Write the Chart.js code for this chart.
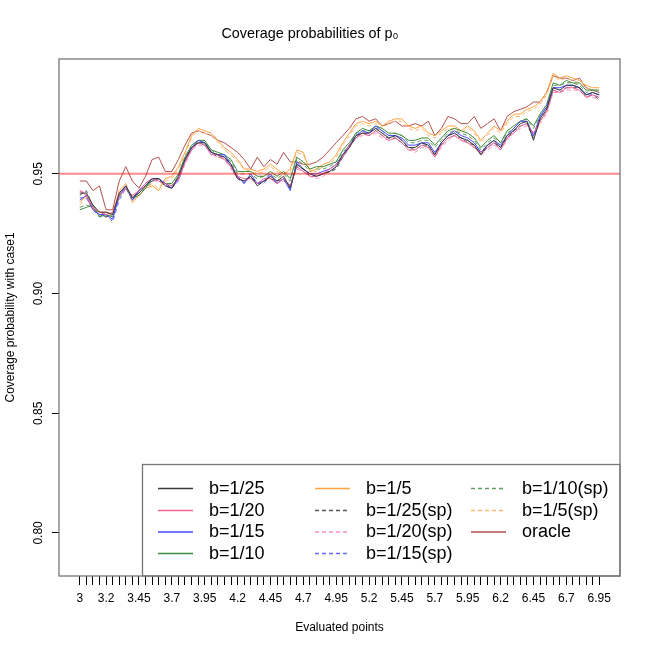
<!DOCTYPE html>
<html>
<head>
<meta charset="utf-8">
<script src="https://cdn.jsdelivr.net/npm/chart.js@4.4.1/dist/chart.umd.min.js"></script>
<style>
html, body { margin: 0; padding: 0; background: #fff; }
</style>
</head>
<body>
<canvas id="chart" width="650" height="650"></canvas>
<script>
// evaluated points on the x axis
const xPoints = [3,3.05,3.1,3.15,3.2,3.25,3.3,3.35,3.4,3.45,
  3.5,3.55,3.6,3.65,3.7,3.75,3.8,3.85,3.9,3.95,
  4,4.05,4.1,4.15,4.2,4.25,4.3,4.35,4.4,4.45,
  4.5,4.55,4.6,4.65,4.7,4.75,4.8,4.85,4.9,4.95,
  5,5.05,5.1,5.15,5.2,5.25,5.3,5.35,5.4,5.45,
  5.5,5.55,5.6,5.65,5.7,5.75,5.8,5.85,5.9,5.95,
  6,6.05,6.1,6.15,6.2,6.25,6.3,6.35,6.4,6.45,
  6.5,6.55,6.6,6.65,6.7,6.75,6.8,6.85,6.9,6.95];
const xTickLabels = ['3','3.2','3.45','3.7','3.95','4.2','4.45','4.7','4.95','5.2','5.45','5.7','5.95','6.2','6.45','6.7','6.95'];
const yTicks = [0.80, 0.85, 0.90, 0.95];
const yTickLabels = ['0.80', '0.85', '0.90', '0.95'];
const refLevel = 0.95;

// coverage probabilities
const b25 = [0.942,0.942,0.937,0.934,0.934,0.933,0.942,0.945,0.940,0.942,0.945,0.948,0.948,0.945,0.944,0.949,0.956,0.961,0.963,0.963,
  0.959,0.958,0.957,0.954,0.948,0.947,0.949,0.945,0.947,0.949,0.947,0.949,0.944,0.954,0.952,0.950,0.949,0.950,0.951,0.953,
  0.958,0.961,0.966,0.967,0.967,0.969,0.967,0.965,0.966,0.964,0.961,0.961,0.963,0.962,0.958,0.963,0.966,0.967,0.965,0.964,
  0.962,0.958,0.962,0.964,0.961,0.966,0.968,0.971,0.972,0.964,0.973,0.977,0.986,0.985,0.987,0.987,0.986,0.983,0.984,0.983];
const b20 = [0.943,0.941,0.936,0.934,0.933,0.934,0.941,0.944,0.941,0.943,0.946,0.948,0.947,0.946,0.945,0.948,0.955,0.960,0.963,0.962,
  0.958,0.958,0.956,0.953,0.949,0.948,0.948,0.946,0.948,0.948,0.946,0.948,0.945,0.953,0.951,0.949,0.949,0.950,0.952,0.954,
  0.957,0.962,0.965,0.967,0.966,0.968,0.966,0.964,0.965,0.963,0.960,0.960,0.962,0.961,0.957,0.962,0.965,0.966,0.964,0.963,
  0.961,0.959,0.961,0.963,0.960,0.965,0.967,0.970,0.971,0.967,0.972,0.976,0.985,0.984,0.986,0.986,0.985,0.982,0.983,0.982];
const b15 = [0.939,0.941,0.935,0.933,0.933,0.931,0.941,0.945,0.939,0.943,0.946,0.948,0.948,0.946,0.944,0.948,0.956,0.961,0.964,0.963,
  0.959,0.958,0.958,0.954,0.949,0.946,0.950,0.946,0.947,0.950,0.946,0.948,0.943,0.955,0.952,0.950,0.950,0.951,0.952,0.954,
  0.958,0.962,0.966,0.968,0.967,0.970,0.968,0.966,0.966,0.965,0.962,0.962,0.963,0.963,0.959,0.963,0.966,0.968,0.966,0.965,
  0.963,0.959,0.962,0.964,0.962,0.966,0.969,0.972,0.972,0.966,0.974,0.978,0.986,0.986,0.987,0.987,0.986,0.983,0.984,0.983];
const b10 = [0.935,0.936,0.937,0.932,0.933,0.932,0.941,0.944,0.940,0.941,0.944,0.948,0.948,0.946,0.946,0.950,0.957,0.962,0.964,0.964,
  0.960,0.959,0.958,0.956,0.951,0.951,0.951,0.949,0.949,0.951,0.949,0.951,0.948,0.957,0.955,0.952,0.953,0.953,0.954,0.955,
  0.960,0.963,0.967,0.969,0.968,0.970,0.969,0.967,0.967,0.966,0.964,0.964,0.965,0.965,0.962,0.965,0.968,0.969,0.968,0.967,
  0.965,0.961,0.964,0.966,0.963,0.968,0.970,0.972,0.973,0.970,0.975,0.979,0.988,0.987,0.989,0.988,0.988,0.985,0.985,0.985];
const b5 = [0.938,0.941,0.935,0.934,0.934,0.933,0.943,0.946,0.938,0.941,0.944,0.945,0.943,0.948,0.949,0.953,0.959,0.966,0.969,0.968,
  0.967,0.964,0.961,0.959,0.956,0.952,0.952,0.951,0.952,0.954,0.952,0.950,0.952,0.960,0.959,0.951,0.952,0.954,0.955,0.958,
  0.963,0.967,0.971,0.972,0.971,0.972,0.970,0.972,0.973,0.973,0.970,0.969,0.970,0.967,0.966,0.968,0.970,0.970,0.968,0.970,
  0.968,0.964,0.967,0.970,0.968,0.972,0.975,0.975,0.977,0.978,0.980,0.984,0.992,0.990,0.991,0.990,0.989,0.987,0.986,0.986];
const b25sp = [0.941,0.943,0.936,0.933,0.932,0.933,0.941,0.945,0.940,0.943,0.945,0.947,0.948,0.945,0.944,0.948,0.955,0.961,0.963,0.962,
  0.959,0.957,0.957,0.953,0.948,0.947,0.949,0.946,0.947,0.948,0.947,0.948,0.945,0.953,0.952,0.949,0.949,0.950,0.951,0.952,
  0.957,0.961,0.965,0.967,0.966,0.968,0.966,0.965,0.965,0.963,0.961,0.960,0.962,0.962,0.958,0.962,0.965,0.966,0.965,0.963,
  0.962,0.958,0.961,0.963,0.961,0.965,0.968,0.970,0.971,0.965,0.972,0.976,0.985,0.984,0.986,0.986,0.986,0.982,0.983,0.981];
const b20sp = [0.943,0.942,0.936,0.933,0.934,0.933,0.940,0.944,0.941,0.942,0.945,0.947,0.947,0.945,0.945,0.947,0.954,0.960,0.962,0.962,
  0.958,0.957,0.956,0.952,0.948,0.947,0.948,0.946,0.947,0.948,0.946,0.947,0.945,0.952,0.951,0.949,0.948,0.949,0.951,0.953,
  0.957,0.961,0.965,0.966,0.966,0.967,0.965,0.964,0.965,0.963,0.960,0.959,0.961,0.961,0.957,0.961,0.964,0.966,0.964,0.963,
  0.961,0.958,0.960,0.962,0.960,0.964,0.967,0.969,0.970,0.966,0.971,0.975,0.984,0.984,0.985,0.985,0.985,0.982,0.982,0.981];
const b15sp = [0.940,0.940,0.935,0.932,0.933,0.930,0.939,0.944,0.939,0.942,0.945,0.947,0.948,0.946,0.944,0.947,0.955,0.960,0.963,0.963,
  0.958,0.958,0.957,0.953,0.948,0.946,0.949,0.946,0.946,0.949,0.946,0.948,0.944,0.954,0.952,0.950,0.949,0.950,0.951,0.953,
  0.957,0.961,0.966,0.967,0.967,0.969,0.967,0.965,0.966,0.964,0.961,0.961,0.963,0.962,0.958,0.963,0.966,0.967,0.965,0.964,
  0.962,0.959,0.961,0.963,0.961,0.965,0.968,0.971,0.972,0.966,0.973,0.977,0.986,0.985,0.986,0.987,0.986,0.983,0.983,0.982];
const b10sp = [0.936,0.937,0.936,0.933,0.932,0.933,0.940,0.944,0.940,0.942,0.944,0.947,0.948,0.946,0.945,0.949,0.956,0.961,0.964,0.963,
  0.960,0.958,0.958,0.955,0.950,0.950,0.950,0.948,0.949,0.950,0.948,0.950,0.947,0.956,0.954,0.951,0.952,0.952,0.953,0.955,
  0.959,0.962,0.967,0.968,0.968,0.969,0.968,0.966,0.967,0.966,0.963,0.963,0.964,0.964,0.961,0.964,0.967,0.968,0.967,0.966,
  0.964,0.960,0.963,0.965,0.963,0.967,0.969,0.972,0.973,0.969,0.974,0.978,0.987,0.987,0.988,0.988,0.987,0.984,0.985,0.984];
const b5sp = [0.937,0.940,0.935,0.933,0.934,0.932,0.942,0.945,0.939,0.941,0.944,0.946,0.944,0.947,0.948,0.952,0.958,0.965,0.968,0.967,
  0.966,0.963,0.960,0.958,0.955,0.952,0.951,0.950,0.951,0.953,0.951,0.950,0.951,0.959,0.958,0.951,0.951,0.953,0.954,0.957,
  0.962,0.966,0.970,0.971,0.970,0.971,0.969,0.971,0.972,0.972,0.969,0.968,0.969,0.966,0.965,0.967,0.969,0.969,0.967,0.969,
  0.967,0.963,0.966,0.969,0.967,0.971,0.974,0.974,0.976,0.977,0.979,0.983,0.991,0.989,0.990,0.989,0.988,0.986,0.985,0.985];
const oracle = [0.947,0.947,0.943,0.945,0.935,0.935,0.947,0.953,0.947,0.944,0.949,0.956,0.957,0.951,0.951,0.956,0.962,0.967,0.968,0.967,
  0.966,0.964,0.963,0.961,0.959,0.956,0.952,0.957,0.953,0.956,0.954,0.959,0.955,0.955,0.954,0.954,0.955,0.957,0.960,0.963,
  0.966,0.969,0.973,0.974,0.972,0.973,0.970,0.971,0.972,0.970,0.970,0.971,0.970,0.972,0.966,0.969,0.974,0.973,0.971,0.971,
  0.974,0.969,0.971,0.973,0.968,0.974,0.976,0.977,0.978,0.980,0.980,0.984,0.991,0.990,0.990,0.989,0.990,0.986,0.985,0.984];

const fontFam = '"Liberation Sans", Arial, Helvetica, sans-serif';

const series = [
  { label: 'b=1/25',     data: b25,    color: '#3a3a3a', dash: [] },
  { label: 'b=1/20',     data: b20,    color: '#f0669a', dash: [] },
  { label: 'b=1/15',     data: b15,    color: '#4848ff', dash: [] },
  { label: 'b=1/10',     data: b10,    color: '#3c8c3c', dash: [] },
  { label: 'b=1/5',      data: b5,     color: '#ffa340', dash: [] },
  { label: 'b=1/25(sp)', data: b25sp,  color: '#555555', dash: [4, 3] },
  { label: 'b=1/20(sp)', data: b20sp,  color: '#ff8cc4', dash: [4, 3] },
  { label: 'b=1/15(sp)', data: b15sp,  color: '#6a6aff', dash: [4, 3] },
  { label: 'b=1/10(sp)', data: b10sp,  color: '#5e9e5e', dash: [4, 3] },
  { label: 'b=1/5(sp)',  data: b5sp,   color: '#ffb870', dash: [4, 3] },
  { label: 'oracle',     data: oracle, color: '#b24f4f', dash: [] }
];

const datasets = series.map(s => ({
  label: s.label,
  data: xPoints.map((x, i) => ({ x: x, y: s.data[i] })),
  borderColor: s.color,
  borderDash: s.dash,
  borderWidth: 1,
  pointRadius: 0,
  tension: 0,
  fill: false
}));

// reference line, rotated y labels, legend and box
const decor = {
  id: 'decor',
  afterDatasetsDraw(chart) {
    const { ctx, chartArea: a, scales: { y } } = chart;
    const py = y.getPixelForValue(refLevel);
    ctx.save();
    ctx.strokeStyle = 'rgba(255,0,0,0.45)';
    ctx.lineWidth = 2;
    ctx.beginPath();
    ctx.moveTo(a.left, py);
    ctx.lineTo(a.right, py);
    ctx.stroke();
    ctx.restore();
  },
  afterDraw(chart) {
    const { ctx, chartArea: a, scales: { y } } = chart;
    ctx.save();
    ctx.fillStyle = '#000';
    ctx.font = '12px ' + fontFam;
    ctx.textAlign = 'center';
    ctx.textBaseline = 'middle';
    yTicks.forEach((v, i) => {
      ctx.save();
      ctx.translate(38.5, y.getPixelForValue(v));
      ctx.rotate(-Math.PI / 2);
      ctx.fillText(yTickLabels[i], 0, 0);
      ctx.restore();
    });

    // legend, 3 columns filled column by column
    const lx = 142.5, ly = 464.5;
    ctx.fillStyle = '#fff';
    ctx.fillRect(lx, ly, a.right - lx, a.bottom - ly);
    ctx.strokeStyle = '#777';
    ctx.lineWidth = 1.3;
    ctx.strokeRect(lx, ly, a.right - lx, a.bottom - ly);
    const colX = [158, 315, 471];
    const rowY = [488, 510, 531.5, 553];
    ctx.font = '18px ' + fontFam;
    ctx.textAlign = 'left';
    series.forEach((s, k) => {
      const c = Math.floor(k / 4), r = k % 4;
      const x0 = colX[c], yy = rowY[r] + 0.5;
      ctx.strokeStyle = s.color;
      ctx.lineWidth = 1.5;
      ctx.setLineDash(s.dash);
      ctx.beginPath();
      ctx.moveTo(x0, yy);
      ctx.lineTo(x0 + 35, yy);
      ctx.stroke();
      ctx.setLineDash([]);
      ctx.fillStyle = '#000';
      ctx.fillText(s.label, x0 + 51, yy + 0.5);
    });

    ctx.strokeStyle = '#777';
    ctx.lineWidth = 1.3;
    ctx.strokeRect(a.left, a.top, a.right - a.left, a.bottom - a.top);
    ctx.restore();
  }
};

new Chart(document.getElementById('chart').getContext('2d'), {
  type: 'line',
  data: { datasets: datasets },
  options: {
    responsive: false,
    animation: false,
    layout: { padding: { left: 0, right: 30, top: 0, bottom: 0 } },
    plugins: {
      legend: { display: false },
      tooltip: { enabled: false },
      title: {
        display: true,
        text: 'Coverage probabilities of p\u2080',
        color: '#000',
        font: { family: fontFam, size: 14.4, weight: 'normal' },
        padding: { top: 25, bottom: 16.7 }
      }
    },
    scales: {
      x: {
        type: 'linear',
        min: 2.842,
        max: 7.108,
        afterBuildTicks: scale => { scale.ticks = xPoints.map(v => ({ value: v })); },
        afterFit: scale => { scale.height = 74; },
        border: { display: false },
        grid: { drawOnChartArea: false, drawTicks: true, tickLength: 9, color: '#000', tickColor: '#000' },
        ticks: {
          autoSkip: false,
          maxRotation: 0,
          padding: 6,
          color: '#000',
          font: { family: fontFam, size: 12 },
          callback: function (value) {
            const s = String(Math.round(value * 100) / 100);
            return xTickLabels.includes(s) ? s : '';
          }
        },
        title: {
          display: true,
          text: 'Evaluated points',
          color: '#000',
          font: { family: fontFam, size: 12 },
          padding: { top: 0, bottom: 15 }
        }
      },
      y: {
        min: 0.782,
        max: 0.998,
        afterBuildTicks: scale => { scale.ticks = yTicks.map(v => ({ value: v })); },
        afterFit: scale => { scale.width = 59; },
        border: { display: false },
        grid: { drawOnChartArea: false, drawTicks: true, tickLength: 7, color: '#000', tickColor: '#000' },
        ticks: { display: false },
        title: {
          display: true,
          text: 'Coverage probability with case1',
          color: '#000',
          font: { family: fontFam, size: 12 },
          padding: { top: 3, bottom: 0 }
        }
      }
    }
  },
  plugins: [decor]
});
</script>
</body>
</html>
